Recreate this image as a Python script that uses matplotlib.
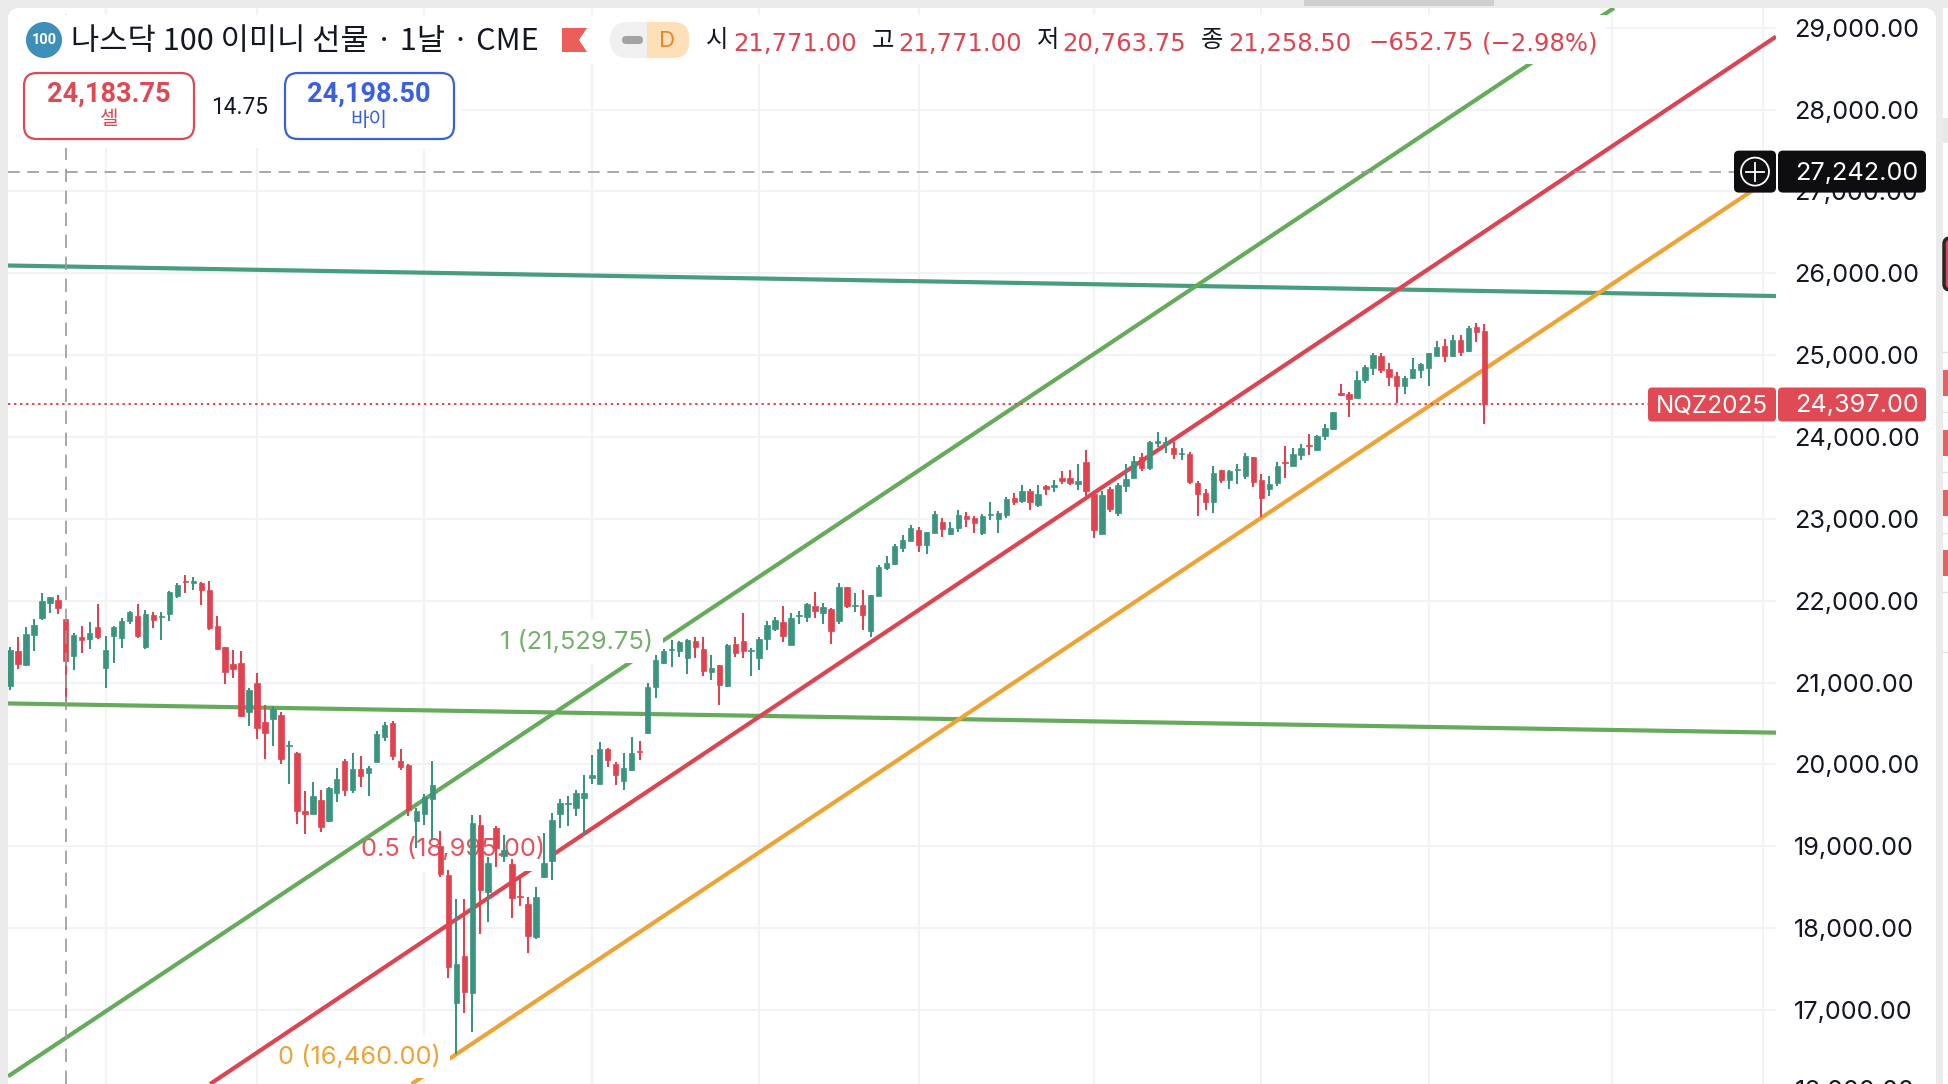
import numpy as np
import matplotlib
matplotlib.use("Agg")
import matplotlib.pyplot as plt
from matplotlib.patches import FancyBboxPatch, Rectangle, Polygon, Circle

# daily candles, oldest first
opens = [
    20960, 21385, 21210, 21580, 21785, 21970, 22010, 21771, 21325, 21555,
    21535, 21675, 21180, 21570, 21545, 21750, 21815, 21440, 21825, 21800,
    21840, 22060, 22240, 22220, 22215, 22130, 21690, 21430, 21230, 21235,
    20635, 20990, 20515, 20550, 20605, 20225, 20135, 19430, 19395, 19560,
    19305, 19655, 20040, 19690, 19940, 19895, 20035, 20340, 20510, 20040,
    19990, 19305, 19395, 19575, 19000, 18650, 17090, 17660, 17210, 19260,
    18445, 19225, 18885, 18785, 18395, 18295, 17890, 18630, 18815, 19390,
    19515, 19465, 19585, 19830, 19765, 20190, 20010, 19795, 19930, 20170,
    20390, 20945, 21235, 21395, 21380, 21295, 21505, 21405, 21135, 21210,
    20960, 21470, 21505, 21385, 21295, 21535, 21660, 21740, 21465, 21815,
    21800, 21935, 21855, 21900, 21750, 22165, 21935, 21950, 21630, 22060,
    22400, 22445, 22650, 22730, 22860, 22685, 22830, 22960, 22815, 22885,
    23035, 23010, 22830, 23045, 23000, 23050, 23250, 23220, 23335, 23165,
    23400, 23390, 23505, 23495, 23425, 23690, 23300, 22820, 23360, 23075,
    23400, 23505, 23750, 23620, 23930, 23920, 23870, 23790, 23790, 23440,
    23315, 23205, 23595, 23480, 23600, 23520, 23750, 23470, 23365, 23440,
    23700, 23650, 23775, 23900, 23840, 24010, 24100, 24535, 24520, 24480,
    24700, 24840, 24995, 24830, 24750, 24625, 24715, 24815, 24840, 24995,
    25110, 24985, 25190, 25045, 25345, 25290,
]
highs = [
    21440, 21555, 21675, 21775, 22090, 22050, 22065, 21771, 21610, 21690,
    21735, 21960, 21570, 21690, 21785, 21875, 21960, 21885, 21865, 21865,
    22115, 22215, 22315, 22285, 22225, 22235, 21815, 21440, 21400, 21385,
    20930, 21115, 20725, 20715, 20640, 20285, 20155, 19675, 19785, 19690,
    19730, 19955, 20065, 20135, 20105, 19975, 20405, 20520, 20530, 20185,
    20000, 19465, 19640, 20040, 19185, 18705, 18355, 18355, 19385, 19385,
    18870, 19245, 19140, 18850, 18610, 18380, 18500, 19160, 19405, 19580,
    19610, 19685, 19870, 20115, 20270, 20205, 20025, 20135, 20335, 20285,
    20990, 21335, 21405, 21515, 21510, 21535, 21555, 21555, 21335, 21220,
    21470, 21555, 21845, 21425, 21560, 21750, 21800, 21935, 21855, 21880,
    21975, 22105, 21970, 21910, 22215, 22165, 22090, 22130, 22075, 22440,
    22545, 22690, 22805, 22920, 22900, 22845, 23090, 23015, 22960, 23105,
    23080, 23040, 23055, 23210, 23090, 23270, 23310, 23410, 23360, 23410,
    23410, 23470, 23585, 23595, 23675, 23840, 23315, 23340, 23390, 23440,
    23665, 23765, 23800, 23945, 24060, 24000, 23935, 23865, 23820, 23465,
    23360, 23645, 23600, 23600, 23675, 23800, 23750, 23545, 23520, 23700,
    23895, 23870, 23910, 24035, 24025, 24155, 24305, 24650, 24550, 24805,
    24885, 25025, 25025, 24905, 24800, 24740, 24965, 24905, 25025, 25175,
    25200, 25245, 25250, 25360, 25395, 25385,
]
lows = [
    20910, 21170, 21205, 21380, 21765, 21855, 21840, 20763.75, 21155, 21365,
    21415, 21530, 20935, 21245, 21425, 21710, 21540, 21415, 21665, 21515,
    21755, 22035, 22100, 22125, 21950, 21645, 21400, 20985, 21050, 20585,
    20465, 20315, 20070, 20220, 20000, 19765, 19275, 19145, 19390, 19170,
    19300, 19545, 19610, 19655, 19730, 19610, 20030, 20290, 20050, 19935,
    19365, 18975, 19260, 19080, 18625, 17385, 16460, 16965, 16735, 17925,
    18070, 18745, 18810, 18120, 18265, 17700, 17865, 18615, 18590, 19220,
    19250, 19375, 19120, 19760, 19760, 19970, 19750, 19685, 19915, 20060,
    20375, 20815, 21230, 21195, 21315, 21105, 21295, 21075, 21035, 20730,
    20950, 21315, 21300, 21075, 21155, 21400, 21635, 21495, 21460, 21715,
    21735, 21790, 21710, 21470, 21715, 21905, 21865, 21645, 21560, 22060,
    22375, 22435, 22595, 22725, 22595, 22575, 22825, 22780, 22805, 22835,
    22900, 22830, 22805, 22985, 22830, 23010, 23165, 23195, 23105, 23145,
    23290, 23325, 23430, 23410, 23350, 23275, 22765, 22810, 23080, 23035,
    23330, 23495, 23585, 23595, 23880, 23800, 23735, 23715, 23430, 23035,
    23105, 23075, 23440, 23365, 23425, 23490, 23390, 23025, 23285, 23400,
    23495, 23645, 23715, 23775, 23825, 23960, 24085, 24495, 24240, 24475,
    24660, 24755, 24780, 24625, 24420, 24520, 24710, 24725, 24625, 24985,
    24920, 24980, 24985, 25035, 25165, 24160,
]
closes = [
    21400, 21230, 21595, 21705, 21995, 22040, 21905, 21258.5, 21580, 21515,
    21610, 21560, 21400, 21675, 21755, 21865, 21570, 21840, 21765, 21810,
    22110, 22195, 22225, 22240, 22125, 21665, 21405, 21135, 21170, 20595,
    20910, 20450, 20390, 20680, 20070, 20235, 19435, 19390, 19610, 19240,
    19710, 19820, 19690, 19940, 19860, 19960, 20375, 20485, 20105, 19965,
    19445, 19435, 19600, 19745, 18665, 17530, 17565, 17220, 19285, 18470,
    18795, 18980, 18960, 18370, 18380, 17910, 18380, 18795, 19325, 19530,
    19530, 19645, 19650, 19870, 20190, 20050, 19865, 19960, 20140, 20155,
    20945, 21275, 21385, 21405, 21495, 21520, 21440, 21145, 21180, 20965,
    21460, 21360, 21390, 21400, 21530, 21700, 21765, 21570, 21785, 21825,
    21960, 21880, 21920, 21635, 22170, 21935, 21950, 21830, 22070, 22410,
    22455, 22665, 22740, 22885, 22685, 22835, 23055, 22870, 22885, 23050,
    23000, 22945, 23035, 23055, 23075, 23245, 23210, 23335, 23210, 23300,
    23365, 23415, 23465, 23440, 23465, 23340, 22860, 23290, 23115, 23415,
    23490, 23710, 23620, 23935, 23945, 23935, 23790, 23805, 23450, 23300,
    23205, 23555, 23480, 23585, 23615, 23765, 23450, 23250, 23430, 23650,
    23685, 23790, 23865, 23885, 24010, 24105, 24305, 24515, 24460, 24700,
    24855, 25005, 24815, 24730, 24620, 24725, 24830, 24895, 25020, 25105,
    24985, 25190, 25035, 25335, 25280, 24397,
]

price_ticks = list(range(17000, 30000, 1000))
month_bars = [12, 31, 52, 73, 94, 114, 136, 157, 178, 201, 220]

# two (bar, price) anchors per drawn line
green_channel = [(82.2, 21529.75), (201.25, 29241)]
red_channel = [(76.5, 19443), (221.56, 28890)]
orange_channel = [(56, 16460), (209.5, 26419)]
upper_level = [(-0.25, 26095), (221.6, 25722)]
lower_level = [(-0.25, 20745), (221.6, 20388)]

fib_labels = ["1 (21,529.75)", "0.5 (18,995.00)", "0 (16,460.00)"]
fib_prices = [21529.75, 18995, 16460]
fib_bars = [80.7, 67.1, 54]

cross_bar = 7
cross_price = 27242
last_price = 24397

UP = "#3b9480"
DOWN = "#e0434f"
GREEN = "#66ab5c"
RED = "#dd4452"
ORANGE = "#eea336"
TEAL = "#479d7c"
BLUE = "#3a5fdf"
GRID = "#f2f3f4"
INK = "#131722"

W, H = 1948, 1084
UI_FONT = ["Inter", "Noto Sans CJK KR", "DejaVu Sans"]
KR_FONT = ["Noto Sans CJK KR", "DejaVu Sans"]
WIDE_FONT = ["DejaVu Sans"]
plt.rcParams["font.family"] = UI_FONT


def px_axes(zorder):
    a = fig.add_axes([0, 0, 1, 1], zorder=zorder)
    a.set_xlim(0, W)
    a.set_ylim(H, 0)
    a.axis("off")
    return a


def box(a, x0, y0, x1, y1, r, fc, ec="none", lw=0):
    a.add_patch(FancyBboxPatch((x0, y0), x1 - x0, y1 - y0, boxstyle=f"round,pad=0,rounding_size={r}",
                               facecolor=fc, edgecolor=ec, linewidth=lw))


fig = plt.figure(figsize=(W / 100, H / 100), dpi=100, facecolor="#ebebeb")

# window chrome behind the chart
bg = px_axes(-1)
box(bg, 8, 8, 1936, H + 40, 12, "white")
bg.add_patch(Rectangle((1304, 0), 190, 6, facecolor="#cfcfcf", edgecolor="none"))
bg.add_patch(Rectangle((1943, 8), 10, H, facecolor="white", edgecolor="none"))
for y in [352, 412, 472, 533, 592, 652]:
    bg.plot([1943, 1948], [y, y], color="#e4e4e4", lw=1)
for y in [370, 430, 490, 550]:
    bg.add_patch(Rectangle((1943, y), 6, 26, facecolor="#e8615f", edgecolor="none"))
bg.add_patch(Rectangle((1943, 118), 6, 25, facecolor="#e8e8e8", edgecolor="none"))
box(bg, 1944, 238, 1960, 290, 6, "#d9484f", "#26272b", 2.5)

ax = fig.add_axes([8 / W, 0, (1776 - 8) / W, (H - 8) / H], zorder=1)
ax.set_facecolor("none")
ax.set_xlim(-0.25, 221.58)
ax.set_ylim(16096, 29240.7)
for s in ax.spines.values():
    s.set_visible(False)

ax.set_xticks([])
ax.set_yticks(price_ticks)
ax.set_yticklabels([f"{v:,.2f}" for v in price_ticks], fontsize=18.2, color=INK)
ax.yaxis.tick_right()
ax.tick_params(axis="y", length=0, pad=13)

for v in price_ticks:
    ax.axhline(v, color=GRID, lw=1.5, zorder=1)
for b in month_bars:
    ax.axvline(b, color=GRID, lw=1.5, zorder=1)

for anchors, col in [(upper_level, TEAL), (lower_level, GREEN)]:
    ax.axline(anchors[0], anchors[1], color=col, lw=3, zorder=2, solid_capstyle="butt")

# each fib level is drawn with its label right after it, so a label hides only
# its own line and the lines drawn earlier
fib_lines = [orange_channel, red_channel, green_channel]
fib_text_cols = [ORANGE, "#e2555f", "#74b06b"]
fib_line_cols = [ORANGE, RED, GREEN]
for k in range(3):
    j = 2 - k
    ax.axline(fib_lines[k][0], fib_lines[k][1], color=fib_line_cols[k], lw=3, zorder=2.1 + 0.2 * k, solid_capstyle="butt")
    ax.text(fib_bars[j], fib_prices[j], fib_labels[j], color=fib_text_cols[k], fontsize=18.3, ha="right",
            va="center_baseline", zorder=2.2 + 0.2 * k, bbox=dict(facecolor="white", edgecolor="none", pad=7))

bars = np.arange(len(opens))
o = np.array(opens, dtype=float)
c = np.array(closes, dtype=float)
cols = np.where(c >= o, UP, DOWN)
ax.vlines(bars, lows, highs, colors=cols, lw=1.45, zorder=4)
ax.bar(bars, np.abs(c - o), bottom=np.minimum(o, c), width=0.68, color=cols, edgecolor=cols, linewidth=0.5, zorder=4)

ax.axvline(cross_bar, color="#9a9a9a", lw=1.2, ls=(0, (8, 5.2)), zorder=5)
ax.axhline(cross_price, color="#9a9a9a", lw=1.2, ls=(0, (7, 4.6)), zorder=5)
ax.axhline(last_price, color=DOWN, lw=1.4, ls=(0, (1.2, 1.9)), zorder=5)

# header and price tags on top
ov = px_axes(5)


def price_y(v):
    return ov.transData.inverted().transform(ax.transData.transform((0, v)))[1]


ov.add_patch(Rectangle((8, 15), 1598, 49, facecolor="white", edgecolor="none"))
ov.add_patch(Rectangle((8, 64), 454, 84, facecolor="white", edgecolor="none"))

ov.add_patch(Circle((44, 40), 18, facecolor="#3c8fb8", edgecolor="none"))
ov.text(44, 40.5, "100", color="white", fontsize=10.5, fontweight="bold", ha="center", va="center", family=["Roboto"])
ov.text(71, 42, "나스닥 100 이미니 선물 · 1날 · CME", color=INK, fontsize=22.1, ha="left", va="center", family=KR_FONT)
ov.add_patch(Polygon([(562, 28), (587, 28), (579, 40), (587, 52), (562, 52)], facecolor="#ed5d5a", edgecolor="none"))

box(ov, 610, 22, 689, 58, 18, "#f0f0f0")
ov.add_patch(Rectangle((647, 22), 24, 36, facecolor="#fde0b8", edgecolor="none"))
box(ov, 655, 22, 689, 58, 16, "#fde0b8")
box(ov, 622, 36, 643, 44, 4, "#a3a3a3")
ov.text(667, 41, "D", color="#e8862f", fontsize=16, ha="center", va="center")

for x, t in [(706, "시"), (872, "고"), (1037, "저"), (1201, "종")]:
    ov.text(x, 40, t, color=INK, fontsize=17.5, ha="left", va="center", family=KR_FONT)
for x, t in [(733, "21,771.00"), (898, "21,771.00"), (1062, "20,763.75"), (1228, "21,258.50"),
             (1368, "−652.75"), (1482, "(−2.98%)")]:
    ov.text(x, 41, t, color=DOWN, fontsize=17.5, ha="left", va="center_baseline", family=WIDE_FONT)

box(ov, 24, 73, 194, 139, 13, "white", "#dc4a54", 1.6)
box(ov, 285, 73, 454, 139, 13, "white", BLUE, 1.6)
ov.text(109, 94, "24,183.75", color="#dc4a54", fontsize=19.5, fontweight="bold", ha="center", va="center", family=["Roboto"])
ov.text(109, 120, "셀", color="#dc4a54", fontsize=14.5, ha="center", va="center", family=KR_FONT)
ov.text(369, 94, "24,198.50", color=BLUE, fontsize=19.5, fontweight="bold", ha="center", va="center", family=["Roboto"])
ov.text(369, 120, "바이", color=BLUE, fontsize=14.5, ha="center", va="center", family=KR_FONT)
ov.text(240, 107, "14.75", color=INK, fontsize=16.3, ha="center", va="center", family=["Roboto"])

ov.text(1795, price_y(16000), "16,000.00", color=INK, fontsize=18.2, ha="left", va="center")

cy = price_y(cross_price)
box(ov, 1734, cy - 21, 1776, cy + 21, 5, "#0e0e10")
box(ov, 1778, cy - 21, 1926, cy + 21, 5, "#0e0e10")
ov.add_patch(Circle((1755, cy), 14, facecolor="none", edgecolor="white", linewidth=1.3))
ov.plot([1746, 1764], [cy, cy], color="white", lw=1.3)
ov.plot([1755, 1755], [cy - 9, cy + 9], color="white", lw=1.3)
ov.text(1795, cy + 1.5, f"{cross_price:,.2f}", color="white", fontsize=18.2, ha="left", va="center")

ly = price_y(last_price)
box(ov, 1648, ly - 17, 1776, ly + 17, 4, "#e04a55")
box(ov, 1778, ly - 17, 1926, ly + 17, 4, "#e04a55")
ov.text(1712, ly + 1.5, "NQZ2025", color="white", fontsize=17.5, ha="center", va="center")
ov.text(1795, ly + 1.5, f"{last_price:,.2f}", color="white", fontsize=18.2, ha="left", va="center")

fig.savefig("out.png", dpi=100, facecolor=fig.get_facecolor())
print("saved out.png")
